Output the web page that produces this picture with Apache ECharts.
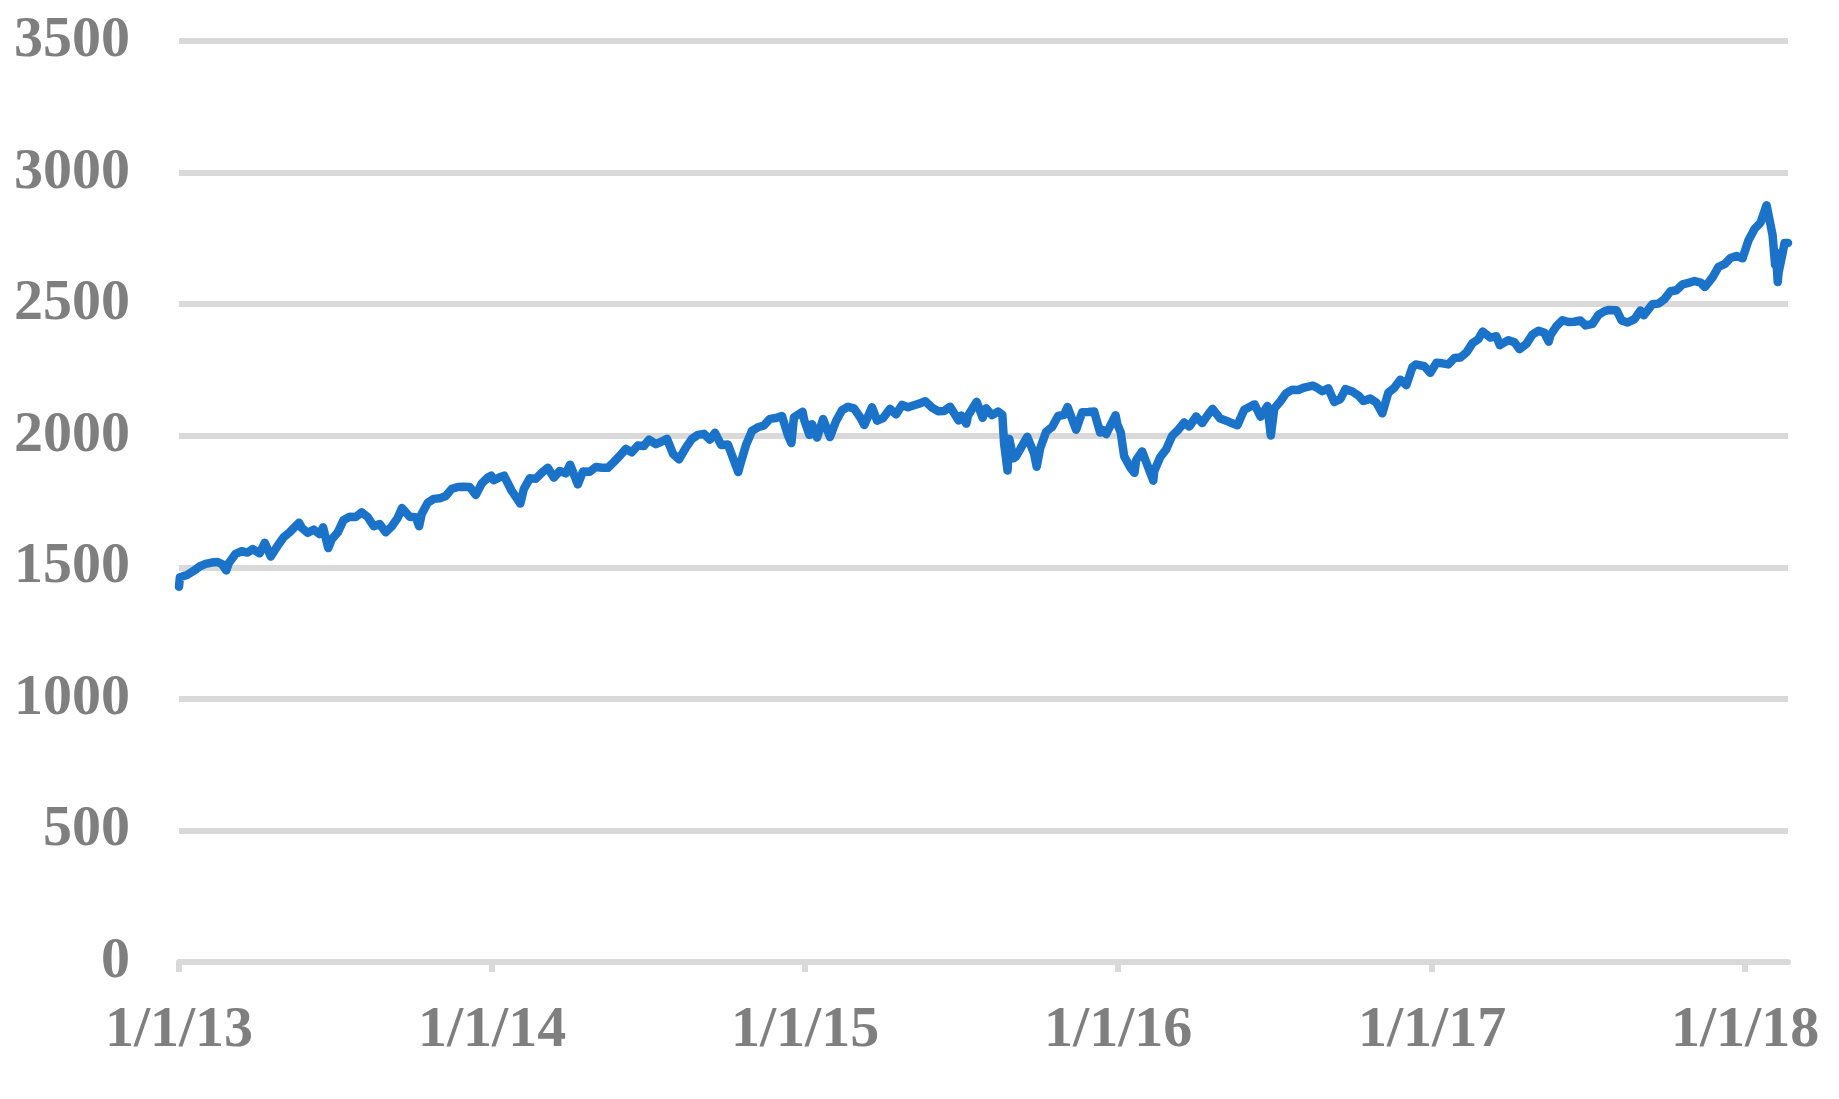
<!DOCTYPE html>
<html>
<head>
<meta charset="utf-8">
<script src="https://cdn.jsdelivr.net/npm/echarts@6/dist/echarts.min.js"></script>
<style>
html,body{margin:0;padding:0;background:#fff;}
#chart{width:1839px;height:1099px;}
</style>
</head>
<body>
<div id="chart"></div>
<script>
// ---- Data ----
const dates2013 = ['2013-01-01','2013-01-02','2013-01-04','2013-01-11','2013-01-18','2013-01-25','2013-02-01','2013-02-08','2013-02-15','2013-02-20','2013-02-25','2013-02-28','2013-03-08','2013-03-15','2013-03-22','2013-03-28','2013-04-05','2013-04-11','2013-04-18','2013-04-26','2013-05-03','2013-05-10','2013-05-21','2013-05-24','2013-05-31','2013-06-07','2013-06-14','2013-06-18','2013-06-24','2013-06-28','2013-07-05','2013-07-12','2013-07-19','2013-07-26','2013-08-02','2013-08-09','2013-08-16','2013-08-23','2013-08-30','2013-09-06','2013-09-13','2013-09-18','2013-09-27','2013-10-04','2013-10-08','2013-10-11','2013-10-18','2013-10-25','2013-11-01','2013-11-08','2013-11-15','2013-11-22','2013-11-29','2013-12-06','2013-12-13','2013-12-20','2013-12-27','2013-12-31'];
const values2013 = [1426,1462,1466,1472,1486,1503,1513,1518,1520,1512,1488,1515,1551,1561,1556,1569,1553,1593,1541,1582,1614,1633,1669,1650,1631,1643,1626,1652,1573,1606,1632,1680,1692,1691,1709,1691,1656,1664,1633,1655,1688,1725,1692,1690,1656,1703,1745,1760,1762,1771,1798,1805,1806,1805,1775,1818,1841,1848];

const dates2014 = ['2014-01-03','2014-01-10','2014-01-15','2014-01-24','2014-02-03','2014-02-07','2014-02-14','2014-02-21','2014-02-28','2014-03-07','2014-03-14','2014-03-21','2014-03-28','2014-04-02','2014-04-11','2014-04-17','2014-04-25','2014-05-02','2014-05-09','2014-05-16','2014-05-23','2014-05-30','2014-06-06','2014-06-13','2014-06-20','2014-06-27','2014-07-03','2014-07-11','2014-07-18','2014-07-24','2014-07-31','2014-08-07','2014-08-15','2014-08-22','2014-08-29','2014-09-05','2014-09-12','2014-09-18','2014-09-25','2014-10-03','2014-10-10','2014-10-15','2014-10-17','2014-10-24','2014-10-31','2014-11-07','2014-11-14','2014-11-21','2014-11-28','2014-12-05','2014-12-12','2014-12-16','2014-12-19','2014-12-29','2014-12-31'];
const values2014 = [1831,1842,1848,1790,1742,1797,1838,1836,1859,1878,1841,1866,1857,1890,1815,1864,1863,1881,1878,1878,1900,1924,1950,1937,1963,1961,1985,1968,1978,1988,1931,1910,1955,1988,2003,2007,1985,2011,1965,1967,1906,1862,1886,1964,2018,2032,2039,2064,2067,2075,2002,1972,2070,2091,2059];

const dates2015 = ['2015-01-02','2015-01-06','2015-01-09','2015-01-15','2015-01-22','2015-01-30','2015-02-06','2015-02-13','2015-02-20','2015-02-27','2015-03-06','2015-03-11','2015-03-20','2015-03-26','2015-04-02','2015-04-10','2015-04-17','2015-04-24','2015-05-01','2015-05-08','2015-05-15','2015-05-21','2015-05-29','2015-06-05','2015-06-12','2015-06-19','2015-06-29','2015-07-02','2015-07-08','2015-07-10','2015-07-20','2015-07-27','2015-07-31','2015-08-07','2015-08-14','2015-08-19','2015-08-21','2015-08-25','2015-08-27','2015-09-01','2015-09-04','2015-09-11','2015-09-17','2015-09-25','2015-09-28','2015-10-02','2015-10-09','2015-10-16','2015-10-23','2015-10-30','2015-11-03','2015-11-13','2015-11-20','2015-11-27','2015-12-04','2015-12-11','2015-12-14','2015-12-18','2015-12-29','2015-12-31'];
const values2015 = [2058,2003,2044,1993,2063,1995,2055,2097,2110,2104,2071,2041,2108,2057,2067,2102,2081,2117,2108,2116,2123,2131,2107,2093,2094,2110,2058,2077,2046,2077,2129,2068,2104,2078,2092,2079,1971,1868,1988,1914,1921,1961,1996,1932,1882,1951,2015,2033,2075,2079,2109,2023,2089,2090,2092,2012,2022,2006,2078,2044];

const dates2016 = ['2016-01-04','2016-01-08','2016-01-15','2016-01-20','2016-01-22','2016-01-29','2016-02-05','2016-02-11','2016-02-12','2016-02-19','2016-02-26','2016-03-04','2016-03-11','2016-03-18','2016-03-24','2016-04-01','2016-04-08','2016-04-15','2016-04-20','2016-04-29','2016-05-06','2016-05-13','2016-05-19','2016-05-27','2016-06-08','2016-06-15','2016-06-23','2016-06-27','2016-07-01','2016-07-08','2016-07-15','2016-07-22','2016-07-29','2016-08-05','2016-08-15','2016-08-19','2016-08-26','2016-09-02','2016-09-09','2016-09-16','2016-09-22','2016-09-30','2016-10-07','2016-10-13','2016-10-21','2016-10-28','2016-11-04','2016-11-11','2016-11-18','2016-11-25','2016-12-02','2016-12-09','2016-12-13','2016-12-23','2016-12-30'];
const values2016 = [2013,1922,1880,1859,1907,1940,1880,1829,1865,1918,1948,2000,2022,2050,2035,2073,2048,2081,2102,2065,2057,2047,2040,2099,2119,2072,2113,2001,2103,2130,2162,2175,2174,2183,2190,2184,2169,2180,2128,2139,2177,2168,2153,2132,2141,2126,2085,2164,2182,2213,2192,2260,2271,2264,2239];

const dates2017 = ['2017-01-06','2017-01-13','2017-01-20','2017-01-27','2017-02-03','2017-02-10','2017-02-17','2017-02-24','2017-03-01','2017-03-10','2017-03-17','2017-03-21','2017-03-31','2017-04-07','2017-04-13','2017-04-21','2017-04-28','2017-05-05','2017-05-12','2017-05-17','2017-05-19','2017-05-26','2017-06-02','2017-06-09','2017-06-16','2017-06-23','2017-06-29','2017-07-07','2017-07-14','2017-07-21','2017-07-26','2017-08-04','2017-08-10','2017-08-17','2017-08-25','2017-09-01','2017-09-05','2017-09-15','2017-09-22','2017-09-29','2017-10-06','2017-10-13','2017-10-20','2017-10-27','2017-11-03','2017-11-10','2017-11-15','2017-11-24','2017-12-01','2017-12-08','2017-12-15','2017-12-22','2017-12-29'];
const values2017 = [2277,2275,2271,2295,2297,2316,2351,2367,2396,2373,2378,2344,2363,2355,2329,2349,2384,2399,2391,2357,2382,2416,2439,2432,2433,2438,2419,2425,2459,2473,2478,2477,2438,2430,2443,2476,2458,2500,2502,2519,2549,2553,2575,2581,2588,2582,2565,2602,2642,2652,2675,2683,2674];

const dates2018 = ['2018-01-05','2018-01-12','2018-01-19','2018-01-26','2018-02-02','2018-02-05','2018-02-06','2018-02-08','2018-02-09','2018-02-14','2018-02-16','2018-02-20'];
const values2018 = [2743,2786,2810,2876,2762,2649,2695,2584,2620,2699,2732,2732];

const xTickDates = ['2013-01-01','2014-01-01','2015-01-01','2016-01-01','2017-01-01','2018-01-01'];
const xTickLabels = ['1/1/13','1/1/14','1/1/15','1/1/16','1/1/17','1/1/18'];
const xMinDate = '2013-01-01';
const xMaxDate = '2018-02-20';
const yTicks = [0,500,1000,1500,2000,2500,3000,3500];

// ---- Build ----
function ts(s){ const p = s.split('-').map(Number); return Date.UTC(p[0], p[1]-1, p[2]); }
const allDates = [].concat(dates2013, dates2014, dates2015, dates2016, dates2017, dates2018);
const allValues = [].concat(values2013, values2014, values2015, values2016, values2017, values2018);
const seriesData = allDates.map((d, i) => [ts(d), allValues[i]]);
const tickTs = xTickDates.map(ts);

const labelFont = { fontFamily: '"Liberation Serif","Times New Roman",serif', fontWeight: 'bold', fontSize: 58, color: '#7f7f7f' };
const gridColor = '#d9d9d9';

const chart = echarts.init(document.getElementById('chart'), null, { renderer: 'canvas' });
chart.setOption({
  animation: false,
  backgroundColor: '#ffffff',
  grid: { left: 179, right: 51, top: 41, bottom: 137, containLabel: false },
  xAxis: {
    type: 'value',
    min: ts(xMinDate),
    max: ts(xMaxDate),
    scale: true,
    splitLine: { show: false },
    axisLine: { show: true, lineStyle: { color: gridColor, width: 6 } },
    axisTick: { show: true, customValues: tickTs, length: 10, lineStyle: { color: gridColor, width: 6 } },
    axisLabel: Object.assign({
      customValues: tickTs,
      margin: 40,
      hideOverlap: false,
      formatter: function (v) {
        let best = 0, bd = Infinity;
        tickTs.forEach((t, i) => { const d = Math.abs(t - v); if (d < bd) { bd = d; best = i; } });
        return xTickLabels[best];
      }
    }, labelFont)
  },
  yAxis: {
    type: 'value',
    min: yTicks[0],
    max: yTicks[yTicks.length - 1],
    interval: 500,
    axisLine: { show: false },
    axisTick: { show: false },
    splitLine: { show: true, lineStyle: { color: gridColor, width: 6 } },
    axisLabel: Object.assign({ margin: 49, formatter: function (v) { return String(v); } }, labelFont)
  },
  series: [{
    type: 'line',
    data: seriesData,
    showSymbol: false,
    symbol: 'none',
    smooth: false,
    lineStyle: { color: '#1a73c9', width: 8.5, cap: 'round', join: 'round' }
  }]
});
</script>
</body>
</html>
